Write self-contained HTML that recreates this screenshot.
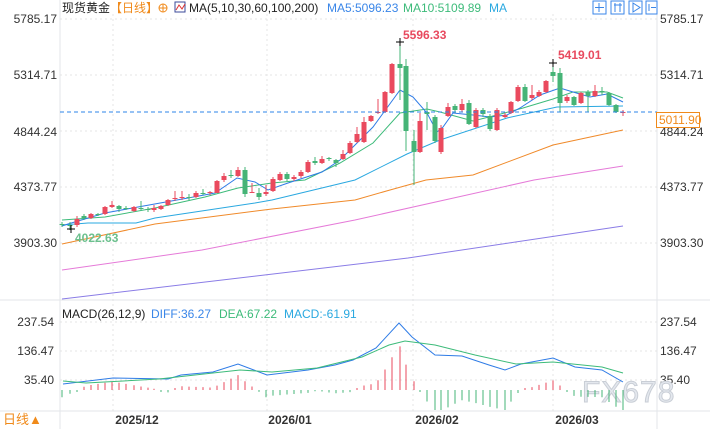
<!DOCTYPE html>
<html><head><meta charset="utf-8">
<style>
html,body{margin:0;padding:0;background:#fff;width:710px;height:429px;overflow:hidden}
svg{display:block}
text{font-family:"Liberation Sans","Noto Sans CJK SC",sans-serif}
</style></head>
<body>
<svg id="c" width="710" height="429" xmlns="http://www.w3.org/2000/svg">
<rect width="710" height="429" fill="#fff"/>
<line x1="60" y1="0" x2="60" y2="429" stroke="#e3e6ea"/>
<line x1="657" y1="0" x2="657" y2="429" stroke="#e3e6ea"/>
<line x1="0" y1="300" x2="710" y2="300" stroke="#e3e6ea"/>
<line x1="0" y1="411" x2="710" y2="411" stroke="#e3e6ea"/>
<g stroke="#e4e4e4" stroke-dasharray="2,3">
<line x1="60" y1="19" x2="657" y2="19"/><line x1="60" y1="75" x2="657" y2="75"/>
<line x1="60" y1="131" x2="657" y2="131"/><line x1="60" y1="187" x2="657" y2="187"/>
<line x1="60" y1="243" x2="657" y2="243"/>
<line x1="60" y1="322" x2="657" y2="322"/><line x1="60" y1="351" x2="657" y2="351"/><line x1="60" y1="380" x2="657" y2="380"/>
<line x1="113" y1="14" x2="113" y2="411"/><line x1="267" y1="14" x2="267" y2="411"/>
<line x1="413" y1="14" x2="413" y2="411"/><line x1="553" y1="14" x2="553" y2="411"/>
</g>
<text x="62" y="12" font-size="12" fill="#222">现货黄金</text>
<text x="110" y="12" font-size="12" fill="#f08a1a">【日线】</text>
<circle cx="163" cy="8" r="4" fill="none" stroke="#f08a1a"/><line x1="159" y1="8" x2="167" y2="8" stroke="#f08a1a"/><line x1="163" y1="4" x2="163" y2="12" stroke="#f08a1a"/>
<rect x="175" y="2" width="10" height="10" fill="#fff" stroke="#3b4a9a"/><polyline points="176,10 179,5 182,9 185,4" fill="none" stroke="#d33"/>
<text x="189" y="12" font-size="12" fill="#222">MA(5,10,30,60,100,200)</text>
<text x="327" y="12" font-size="12" fill="#3a86e8">MA5:5096.23</text>
<text x="403" y="12" font-size="12" fill="#3dbb7a">MA10:5109.89</text>
<text x="489" y="12" font-size="12" fill="#2aa8e0">MA</text>
<g fill="#fff" stroke="#3a86e8">
<rect x="593" y="1" width="13" height="13"/><rect x="611" y="1" width="13" height="13"/><rect x="629" y="1" width="13" height="13"/><rect x="646" y="1" width="11" height="13"/>
</g>
<g stroke="#3a86e8" fill="none"><path d="M599 3v9M595 7.5h9M615 3v9M620 3v9M614 5h8M633 3v9l7-4.5zM649 4v7M651 7.5h5"/></g>
<g font-size="12" fill="#333">
<text x="57" y="23" text-anchor="end">5785.17</text><text x="57" y="79" text-anchor="end">5314.71</text>
<text x="57" y="136" text-anchor="end">4844.24</text><text x="57" y="191" text-anchor="end">4373.77</text>
<text x="57" y="247" text-anchor="end">3903.30</text>
<text x="660" y="23">5785.17</text><text x="660" y="79">5314.71</text>
<text x="660" y="136">4844.24</text><text x="660" y="191">4373.77</text>
<text x="660" y="247">3903.30</text>
<text x="54" y="326" text-anchor="end">237.54</text><text x="54" y="355" text-anchor="end">136.47</text><text x="54" y="384" text-anchor="end">35.40</text>
<text x="660" y="326">237.54</text><text x="660" y="355">136.47</text><text x="660" y="384">35.40</text>
</g>
<g font-size="12" font-weight="bold" fill="#333" text-anchor="middle">
<text x="137" y="424">2025/12</text><text x="290" y="424">2026/01</text><text x="437" y="424">2026/02</text><text x="577" y="424">2026/03</text>
</g>
<text x="3" y="424" font-size="13" fill="#f08a1a">日线▲</text>
<text x="62" y="318" font-size="12" fill="#222">MACD(26,12,9)</text>
<text x="151" y="318" font-size="12" fill="#3a86e8">DIFF:36.27</text>
<text x="219" y="318" font-size="12" fill="#3dbb7a">DEA:67.22</text>
<text x="284" y="318" font-size="12" fill="#2aa8e0">MACD:-61.91</text>
<text x="582" y="402" font-size="30" fill="#e4e8ee" stroke="#c9ced6" stroke-width="1" letter-spacing="1">FX678</text>
<g id="dyn"></g>
<line x1="60" y1="112" x2="657" y2="112" stroke="#2e86e8" stroke-dasharray="4,3"/>
<rect x="656.5" y="112.5" width="43" height="15" fill="#fff" stroke="#f08a1a"/>
<text x="659" y="124" font-size="12" fill="#f08a1a">5011.90</text>
<text x="403" y="39" font-size="12" font-weight="bold" fill="#e84a5f">5596.33</text>
<path d="M396 42h8M400 38v8" stroke="#000"/>
<text x="558" y="59" font-size="12" font-weight="bold" fill="#e84a5f">5419.01</text>
<path d="M549 63h8M553 59v8" stroke="#000"/>
<text x="75" y="242" font-size="12" font-weight="bold" fill="#6cc08e">4022.63</text>
<path d="M67 229h8M71 225v8" stroke="#000"/>
</svg>
<script>
var ns="http://www.w3.org/2000/svg",g=document.getElementById("dyn");
function el(t,a){var e=document.createElementNS(ns,t);for(var k in a)e.setAttribute(k,a[k]);g.appendChild(e);return e;}
function pl(p,c){el("polyline",{points:p,fill:"none",stroke:c,"stroke-width":1});}
pl("62,299 408,258 623,226","#8a7ce6");
pl("62,270 202,250 355,220 534,180 623,166","#e57ad8");
pl("62,244 155,224 272,209 355,200 390,190 426,180 473,175 553,145 623,130","#f08a2a");
pl("62,225 88,223 136,223 155,218 255,203 272,200 355,180 407,154 440,140 507,118 557,107 623,106","#2aa8e0");
pl("62,220 105,217 155,208 205,197 238,188 272,183 305,180 340,163 373,143 400,113 427,109 440,112 473,121 497,115 523,108 553,99 573,92 607,92 623,98","#3dbb7a");
pl("62,226 68,224 105,213 138,207 188,198 215,193 237,178 255,182 268,190 288,183 322,172 340,160 373,127 400,90 413,97 427,113 437,132 443,127 453,113 473,115 490,117 507,115 520,108 540,95 560,88 573,92 590,97 607,94 623,102","#2e7be6");
var C=[[62,224,225,222,227,0],[70,225,226,222,230,0],[77,219,225,216,227,1],[84,216,218,214,220,0],[91,214,218,213,219,1],[98,214,215,213,216,0],[105,207,214,206,215,1],[112,205,207,201,208,1],[119,206,209,205,212,0],[126,208,209,206,210,0],[134,207,211,206,212,1],[141,208,209,201,210,0],[148,209,210,207,212,0],[154,208,210,205,212,1],[161,206,209,205,210,1],[168,200,205,199,206,1],[175,198,199,191,201,1],[182,197,198,191,200,1],[189,197,198,194,200,0],[196,193,197,191,198,1],[203,193,194,189,195,0],[210,192,193,191,195,1],[217,181,193,180,193,1],[224,176,180,173,182,1],[231,175,176,170,178,0],[238,170,176,167,177,1],[245,170,194,167,197,0],[252,192,193,183,193,1],[259,193,197,188,200,0],[266,192,194,185,196,1],[273,179,191,177,192,1],[280,174,180,172,181,1],[287,174,179,172,181,0],[294,177,179,175,181,1],[301,172,176,170,178,1],[308,162,172,160,173,1],[315,161,163,157,165,0],[322,159,163,156,164,1],[329,158,159,157,161,0],[336,160,163,159,167,0],[343,154,159,150,160,1],[350,143,153,141,154,1],[357,134,142,127,143,1],[364,122,142,117,143,1],[371,116,121,115,122,1],[378,112,113,99,114,1],[385,92,112,91,113,1],[392,64,93,63,94,1],[400,64,68,42,100,0],[406,66,131,59,151,0],[414,141,152,130,185,0],[420,121,152,113,153,1],[427,112,114,102,130,0],[435,117,141,115,143,0],[441,128,152,125,154,1],[448,107,116,103,117,1],[455,106,110,104,113,0],[462,104,110,99,112,1],[469,103,124,100,125,0],[476,110,127,108,128,1],[483,110,114,108,117,0],[490,116,129,114,131,0],[497,110,130,108,131,1],[505,115,117,113,118,1],[511,102,113,101,114,1],[518,87,101,85,102,1],[525,87,101,84,102,0],[532,95,98,85,100,1],[539,92,96,90,97,1],[546,81,92,80,93,1],[553,72,76,63,82,0],[560,73,103,68,112,0],[567,97,101,95,103,1],[574,97,105,96,106,0],[581,93,103,92,104,1],[588,92,96,90,112,0],[595,91,96,85,97,1],[602,91,92,87,95,0],[609,93,105,92,106,0],[616,105,112,104,113,0],[623,112,113,110,116,1]];
C.forEach(function(c){var col=c[5]?"#ea4a5e":"#46b477";
el("line",{x1:c[0],x2:c[0],y1:c[3],y2:c[4],stroke:col});
var t=Math.min(c[1],c[2]),b=Math.max(c[1],c[2]);el("rect",{x:c[0]-2.5,y:t,width:5,height:Math.max(1,b-t),fill:col});});
var D=[[63,384],[113,378],[168,379],[181,375],[213,372],[238,364],[267,375],[308,370],[335,365],[353,360],[376,348],[399,323],[412,337],[435,355],[462,356],[489,365],[505,370],[521,364],[553,358],[575,367],[602,370],[623,382]];
var E=[[63,381],[86,383],[159,379],[240,370],[272,372],[317,368],[362,357],[389,345],[405,341],[435,345],[475,355],[516,364],[553,362],[602,367],[623,373]];
function interp(a,x){for(var i=0;i<a.length-1;i++){if(x>=a[i][0]&&x<=a[i+1][0]){var f=(x-a[i][0])/(a[i+1][0]-a[i][0]);return a[i][1]+f*(a[i+1][1]-a[i][1]);}}return x<a[0][0]?a[0][1]:a[a.length-1][1];}
C.forEach(function(c){var x=c[0],h=(interp(E,x)-interp(D,x))*2.4;var col=h>0?"#ea4a5e":"#46b477";
if(Math.abs(h)<1)h=h>=0?2:-2;
el("line",{x1:x,x2:x,y1:390,y2:Math.min(410,Math.max(340,390-h)),stroke:col});});
pl(D.map(function(p){return p.join(",")}).join(" "),"#2e7be6");
pl(E.map(function(p){return p.join(",")}).join(" "),"#3dbb7a");
</script>
</body></html>
